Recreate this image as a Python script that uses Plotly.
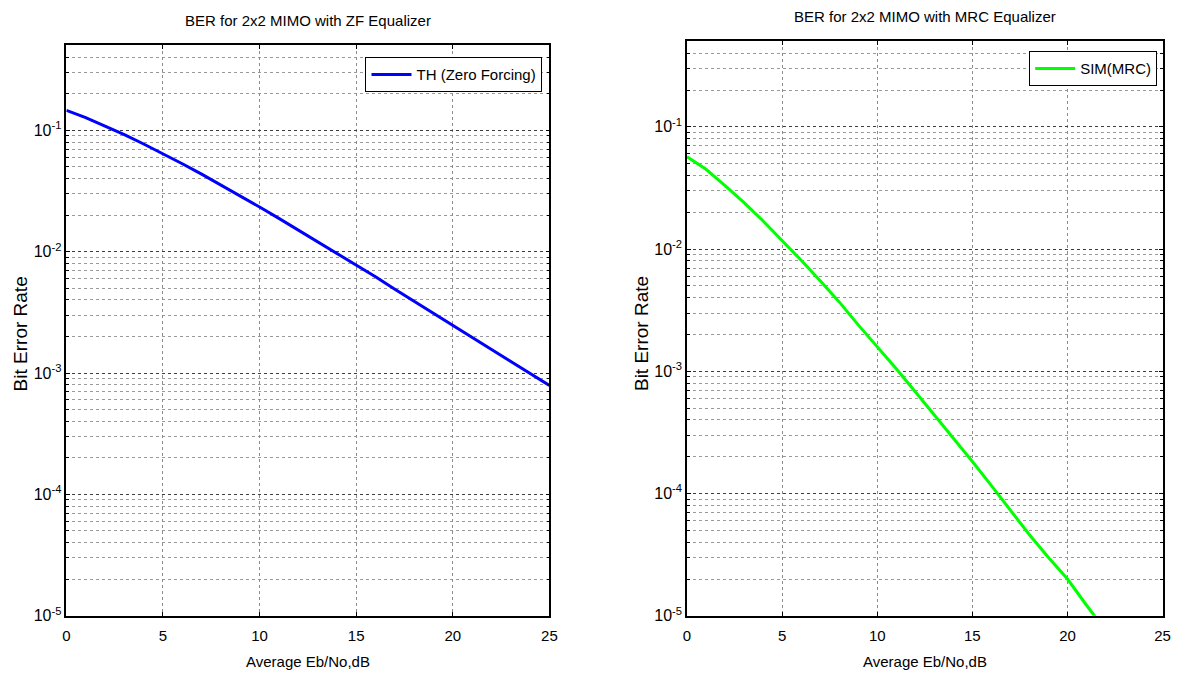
import plotly.graph_objects as go
import math

# Eb/No axis in dB
ebno = list(range(26))

# Theoretical BER, 2x2 MIMO with zero-forcing equalizer
ber_zf = [0.146, 0.127, 0.108, 0.092, 0.077, 0.064, 0.053, 0.0435, 0.0355, 0.0288,
          0.0233, 0.0188, 0.0151, 0.0121, 0.0097, 0.0077, 0.0062, 0.0049, 0.0039,
          0.0031, 0.0025, 0.00198, 0.00157, 0.00125, 0.00100, 0.00079]

# Simulated BER, 2x2 MIMO with MRC equalizer
ebno_mrc = list(range(23))
ber_mrc = [0.057, 0.045, 0.033, 0.024, 0.0170, 0.0118, 0.0081, 0.0055, 0.0037,
           0.0024, 0.00159, 0.00105, 0.00068, 0.00044, 0.00028, 0.000183,
           0.000116, 0.000073, 0.000046, 0.000030, 0.0000200, 0.0000122, 0.0000076]

x_ticks = [0, 5, 10, 15, 20, 25]
y_ticks = [1e-5, 1e-4, 1e-3, 1e-2, 1e-1]
y_ticktext = ["10<sup>-5</sup>", "10<sup>-4</sup>", "10<sup>-3</sup>",
              "10<sup>-2</sup>", "10<sup>-1</sup>"]

titles = ["BER for 2x2 MIMO with ZF Equalizer", "BER for 2x2 MIMO with MRC Equalizer"]
x_title = "Average Eb/No,dB"
y_title = "Bit Error Rate"

W, H = 1182, 685
FONT = "Liberation Sans, Arial, sans-serif"

# minor grid values (2..9 within each decade)
minor_vals = [m * 10.0 ** e for e in range(-5, 0) for m in range(2, 10)]
minor_vals = [v for v in minor_vals if v <= 0.5]

# plot boxes in pixels: (left, right, top, bottom)
boxes = [(63, 551, 46, 624), (690, 1170.5, 42, 624)]


def px_x(v):
    return v / W


def px_y(v):
    return 1 - v / H


fig = go.Figure()

fig.add_trace(go.Scatter(x=ebno, y=ber_zf, mode="lines", name="TH (Zero Forcing)",
                         line=dict(color="#0000ff", width=3),
                         xaxis="x", yaxis="y", legend="legend"))
fig.add_trace(go.Scatter(x=ebno_mrc, y=ber_mrc, mode="lines", name="SIM(MRC)",
                         line=dict(color="#00ff00", width=3),
                         xaxis="x2", yaxis="y2", legend="legend2"))


def xaxis_cfg(box, anchor):
    return dict(
        domain=[px_x(box[0]), px_x(box[1])], anchor=anchor,
        range=[0, 25], tickvals=x_ticks, ticks="inside", ticklen=4,
        tickcolor="black", showline=True, linecolor="black", linewidth=1.5,
        mirror="ticks", showgrid=True, gridcolor="#8c8c8c", griddash="dot",
        gridwidth=1, zeroline=False,
        tickfont=dict(family=FONT, size=15, color="black"),
        ticklabelstandoff=5,
    )


def yaxis_cfg(box, anchor):
    return dict(
        type="log", domain=[px_y(box[3]), px_y(box[2])], anchor=anchor,
        range=[-5, math.log10(0.5)], tickvals=y_ticks, ticktext=y_ticktext,
        ticks="inside", ticklen=4, tickcolor="black",
        showline=True, linecolor="black", linewidth=1.5, mirror="ticks",
        showgrid=True, gridcolor="#3c3c3c", griddash="dot", gridwidth=1,
        zeroline=False,
        tickfont=dict(family=FONT, size=16, color="black"),
        minor=dict(tickvals=minor_vals, ticks="inside", ticklen=3,
                   tickcolor="black", showgrid=True, gridcolor="#9a9a9a",
                   griddash="dot", gridwidth=1),
    )


legend_style = dict(xanchor="right", yanchor="top",
                    bgcolor="white", bordercolor="black", borderwidth=1,
                    font=dict(family=FONT, size=15, color="black"),
                    itemwidth=40)

fig.update_layout(
    width=W, height=H,
    margin=dict(l=0, r=0, t=0, b=0),
    paper_bgcolor="white", plot_bgcolor="white",
    xaxis=xaxis_cfg(boxes[0], "y"),
    yaxis=yaxis_cfg(boxes[0], "x"),
    xaxis2=xaxis_cfg(boxes[1], "y2"),
    yaxis2=yaxis_cfg(boxes[1], "x2"),
    legend=dict(x=px_x(544), y=px_y(58), **legend_style),
    legend2=dict(x=px_x(1165), y=px_y(52), **legend_style),
    showlegend=True,
)

annotations = []
for box, title in zip(boxes, titles):
    cx = (box[0] + box[1]) / 2
    annotations.append(dict(text=title, x=px_x(cx), y=px_y(box[2] - 25),
                            xref="paper", yref="paper", showarrow=False,
                            xanchor="center", yanchor="middle",
                            font=dict(family=FONT, size=15, color="black")))
    annotations.append(dict(text=x_title, x=px_x(cx), y=px_y(670),
                            xref="paper", yref="paper", showarrow=False,
                            xanchor="center", yanchor="middle",
                            font=dict(family=FONT, size=15, color="black")))
    annotations.append(dict(text=y_title, x=px_x(box[0] - 46), y=px_y(338),
                            xref="paper", yref="paper", showarrow=False,
                            xanchor="center", yanchor="middle", textangle=-90,
                            font=dict(family=FONT, size=19, color="black")))
fig.update_layout(annotations=annotations)

fig.write_html("out.html")
